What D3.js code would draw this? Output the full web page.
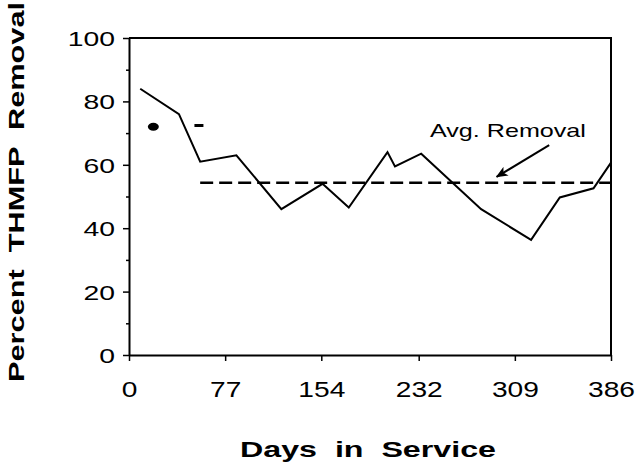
<!DOCTYPE html>
<html>
<head>
<meta charset="utf-8">
<script src="https://cdn.jsdelivr.net/npm/d3@7"></script>
<style>
  body { margin: 0; background: #fff; }
  svg { display: block; }
</style>
</head>
<body>
<script>
// values
var days    = [9, 40, 57, 86, 122, 155, 176, 207, 213, 234, 282, 322, 345, 372, 386];
var removal = [84, 76, 61, 63, 46, 54, 46.5, 64, 59.5, 63.5, 46, 36.3, 49.7, 52.6, 60.7];
var avgStart = 57, avgEnd = 386, avgRemoval = 54.3;
var dotPoint = [19.5, 72];
var dashPoint = [56, 72.4];
var xTicks = [0, 77, 154, 232, 309, 386];
var yTicks = [0, 20, 40, 60, 80, 100];
var yMinor = [10, 30, 50, 70, 90];
var annText = "Avg. Removal";
var annPos = [241, 68.8];
var arrowFrom = [336.5, 66.2], arrowTo = [294.4, 56.2];

var width = 637, height = 466;
// note: "top" is taken by window.top, so use plot* names
var plotLeft = 129, plotRight = 611, plotTop = 38, plotBottom = 355;

var svg = d3.select('body').append('svg')
            .attr('width', width)
            .attr('height', height);

var x = d3.scaleLinear().domain([0, 386]).range([plotLeft, plotRight]);
var y = d3.scaleLinear().domain([0, 100]).range([plotBottom, plotTop]);

var data = days.map(function(d, i){ return {day: d, val: removal[i]}; });

// frame (top + right)
svg.append('path')
   .attr('d', 'M' + plotLeft + ',' + plotTop + 'H' + plotRight + 'V' + plotBottom)
   .attr('fill', 'none').attr('stroke', '#000').attr('stroke-width', 2);

// minor y ticks
svg.append('g').attr('transform', 'translate(' + plotLeft + ',0)')
   .call(d3.axisLeft(y).tickValues(yMinor).tickSize(3).tickFormat(''))
   .call(function(g){ g.select('.domain').remove(); g.selectAll('line').attr('stroke-width', 1.5); });

var yAxis = d3.axisLeft(y).tickValues(yTicks).tickSize(6).tickSizeOuter(0);
svg.append('g').attr('class', 'y-axis').attr('transform', 'translate(' + plotLeft + ',0)')
   .call(yAxis)
   .call(function(g){
     g.attr('font-size', 21).attr('font-family', '"Liberation Sans", Arial, sans-serif');
     g.select('.domain').attr('stroke-width', 2);
     g.selectAll('.tick line').attr('stroke-width', 1.5);
     g.selectAll('.tick text').attr('x', -14 / 1.35).attr('dy', '0.36em')
      .attr('transform', 'scale(1.35,1)');
   });

var xAxis = d3.axisBottom(x).tickValues(xTicks).tickSize(6).tickSizeOuter(0).tickPadding(20);
svg.append('g').attr('class', 'x-axis').attr('transform', 'translate(0,' + plotBottom + ')')
   .call(xAxis)
   .call(function(g){
     g.attr('font-size', 22).attr('font-family', '"Liberation Sans", Arial, sans-serif');
     g.select('.domain').attr('stroke-width', 2);
     g.selectAll('.tick line').attr('stroke-width', 1.5);
     g.selectAll('.tick text').attr('transform', 'scale(1.28,1)');
   });

// avg line
svg.append('line')
   .attr('x1', x(avgStart)).attr('x2', x(avgEnd))
   .attr('y1', y(avgRemoval)).attr('y2', y(avgRemoval))
   .attr('stroke', '#000').attr('stroke-width', 2.5)
   .attr('stroke-dasharray', '13,6');

// removal line
var line = d3.line()
             .x(function(d){ return x(d.day); })
             .y(function(d){ return y(d.val); });
svg.append('path').attr('d', line(data))
   .attr('fill', 'none').attr('stroke', '#000').attr('stroke-width', 2)
   .attr('stroke-linejoin', 'miter');

// stray marks in the scan
svg.append('ellipse')
   .attr('cx', x(dotPoint[0])).attr('cy', y(dotPoint[1]))
   .attr('rx', 5.5).attr('ry', 4).attr('fill', '#000');
svg.append('line')
   .attr('x1', x(dashPoint[0]) - 4.5).attr('x2', x(dashPoint[0]) + 4.5)
   .attr('y1', y(dashPoint[1])).attr('y2', y(dashPoint[1]))
   .attr('stroke', '#000').attr('stroke-width', 3);

// annotation
svg.append('defs').append('marker')
   .attr('id', 'arrow').attr('viewBox', '0 0 12 10')
   .attr('refX', 11).attr('refY', 5)
   .attr('markerWidth', 12).attr('markerHeight', 10)
   .attr('markerUnits', 'userSpaceOnUse')
   .attr('orient', 'auto')
   .append('path').attr('d', 'M0,0 L12,5 L0,10 L3,5 Z').attr('fill', '#000');

svg.append('line')
   .attr('x1', x(arrowFrom[0])).attr('y1', y(arrowFrom[1]))
   .attr('x2', x(arrowTo[0])).attr('y2', y(arrowTo[1]))
   .attr('stroke', '#000').attr('stroke-width', 2)
   .attr('marker-end', 'url(#arrow)');

svg.append('text')
   .attr('x', x(annPos[0])).attr('y', y(annPos[1]))
   .attr('font-family', '"Liberation Sans", Arial, sans-serif')
   .attr('font-size', 19)
   .attr('textLength', 156).attr('lengthAdjust', 'spacingAndGlyphs')
   .text(annText);

// axis titles
svg.append('text')
   .attr('x', 240).attr('y', 457)
   .attr('font-family', '"Liberation Sans", Arial, sans-serif')
   .attr('font-weight', 'bold').attr('font-size', 22)
   .attr('textLength', 256).attr('lengthAdjust', 'spacingAndGlyphs')
   .attr('xml:space', 'preserve')
   .text('Days  in  Service');

svg.append('text')
   .attr('transform', 'translate(24,192) rotate(-90)')
   .attr('text-anchor', 'middle')
   .attr('font-family', '"Liberation Sans", Arial, sans-serif')
   .attr('font-weight', 'bold').attr('font-size', 22)
   .attr('textLength', 380).attr('lengthAdjust', 'spacingAndGlyphs')
   .attr('xml:space', 'preserve')
   .text('Percent  THMFP  Removal');
</script>
</body>
</html>
